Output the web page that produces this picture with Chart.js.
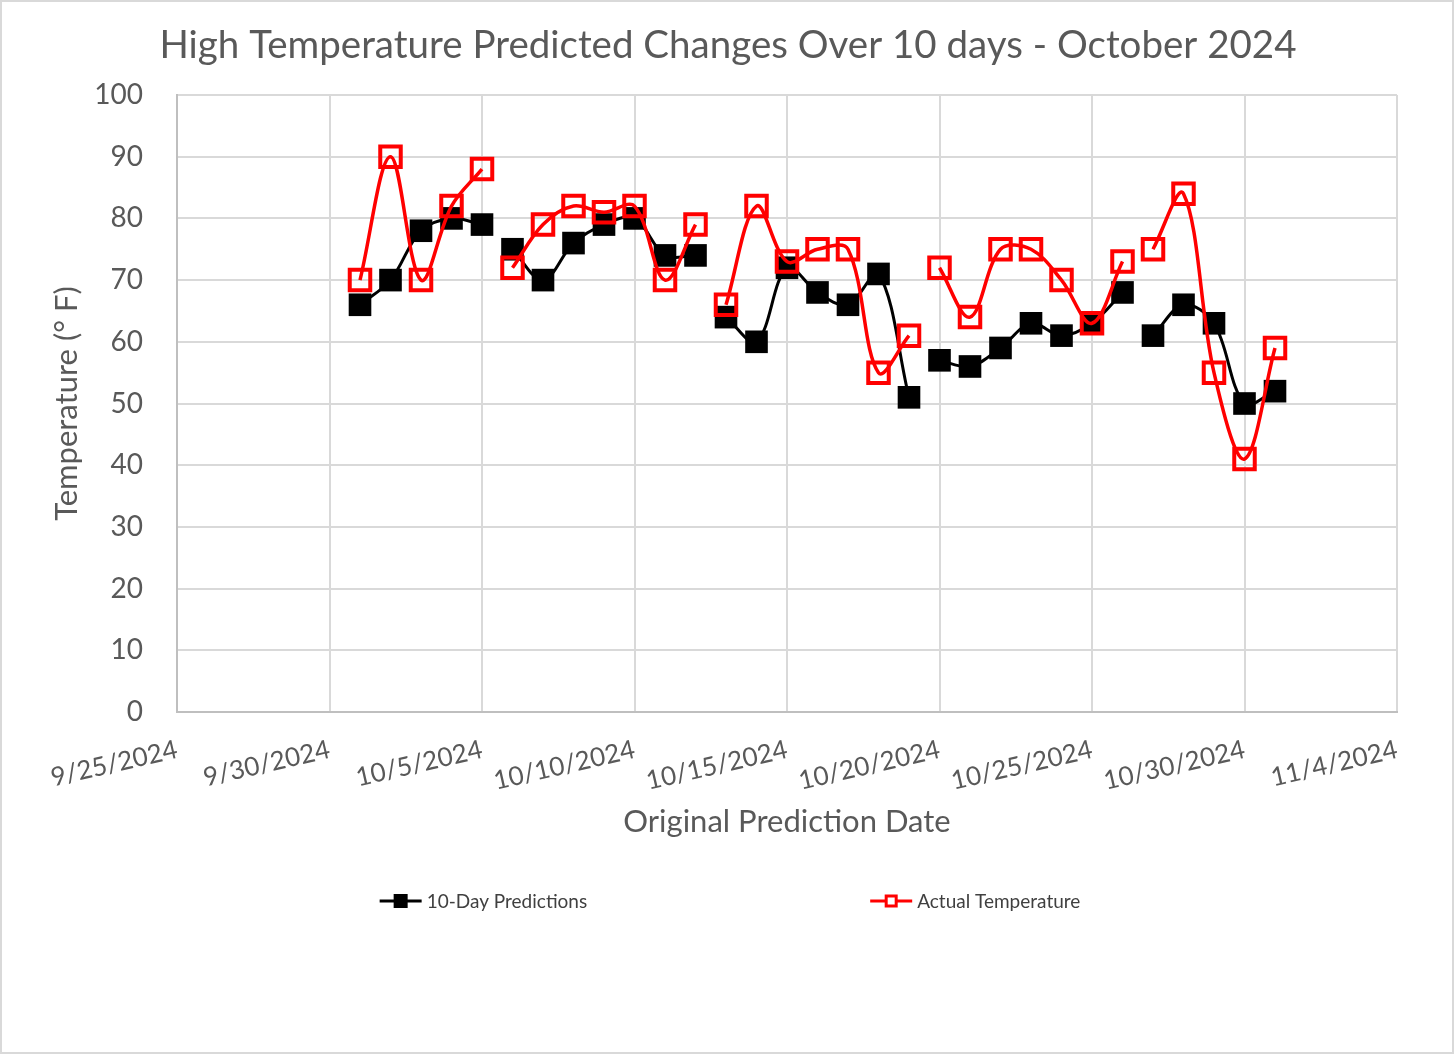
<!DOCTYPE html>
<html>
<head>
<meta charset="utf-8">
<title>High Temperature Predicted Changes Over 10 days - October 2024</title>
<script src="https://cdn.jsdelivr.net/npm/chart.js@4.4.1/dist/chart.umd.min.js"></script>
<style>
  html, body { margin: 0; padding: 0; background: #fff; }
  #wrap { width: 1456px; height: 1056px; position: relative; }
</style>
</head>
<body>
<div id="wrap"><canvas id="myChart"></canvas></div>
<script>
const startDate = '9/25/2024';
const dates = [
    '10/1/2024', '10/2/2024', '10/3/2024', '10/4/2024', '10/5/2024',
    '10/6/2024', '10/7/2024', '10/8/2024', '10/9/2024', '10/10/2024',
    '10/11/2024', '10/12/2024', '10/13/2024', '10/14/2024', '10/15/2024',
    '10/16/2024', '10/17/2024', '10/18/2024', '10/19/2024', '10/20/2024',
    '10/21/2024', '10/22/2024', '10/23/2024', '10/24/2024', '10/25/2024',
    '10/26/2024', '10/27/2024', '10/28/2024', '10/29/2024', '10/30/2024',
    '10/31/2024'
];
const predicted = [66, 70, 78, 80, 79, 75, 70, 76, 79, 80, 74, 74, 64, 60, 72, 68,
    66, 71, 51, 57, 56, 59, 63, 61, 63, 68, 61, 66, 63, 50, 52];
const actual = [70, 90, 70, 82, 88, 72, 79, 82, 81, 82, 70, 79, 66, 82, 73, 75,
    75, 55, 61, 72, 64, 75, 75, 70, 63, 73, 75, 84, 55, 41, 59];
// each of these starts a new (unconnected) run of points in the original
const segmentStarts = ['10/6/2024', '10/13/2024', '10/20/2024', '10/27/2024'];

const FONT = 'Lato';
const GREY = '#595959';

function parseDate(s) {
    const [m, d, y] = s.split('/').map(Number);
    return Date.UTC(y, m - 1, d);
}

function dayOffset(s) {
    return Math.round((parseDate(s) - parseDate(startDate)) / 86400000);
}

function dayLabel(n) {
    const dt = new Date(parseDate(startDate) + n * 86400000);
    return (dt.getUTCMonth() + 1) + '/' + dt.getUTCDate() + '/' + dt.getUTCFullYear();
}

function toPoints(values) {
    const pts = [];
    dates.forEach((d, i) => {
        const x = dayOffset(d);
        if (segmentStarts.includes(d)) pts.push({ x: x - 0.5, y: null });
        pts.push({ x: x, y: values[i] });
    });
    return pts;
}

// white page + thin frame
const pageFrame = {
    id: 'pageFrame',
    beforeDraw(chart) {
        const ctx = chart.ctx;
        ctx.save();
        ctx.fillStyle = '#fff';
        ctx.fillRect(0, 0, chart.width, chart.height);
        ctx.strokeStyle = '#d9d9d9';
        ctx.lineWidth = 2;
        ctx.strokeRect(1, 1, chart.width - 4, chart.height - 4);
        ctx.restore();
    }
};

// Excel style legend: short line with the marker in the middle
const lineLegend = {
    id: 'lineLegend',
    afterDraw(chart) {
        const ctx = chart.ctx;
        const sets = chart.data.datasets;
        const y = 901;
        const iconW = 42, gap = 5, spacing = 283;
        ctx.save();
        ctx.font = '19px ' + FONT;
        const widths = sets.map(ds => iconW + gap + ctx.measureText(ds.label).width);
        const total = widths.reduce((a, b) => a + b, 0) + spacing * (sets.length - 1);
        let x = chart.width / 2 + 2 - total / 2;
        sets.forEach((ds, i) => {
            ctx.strokeStyle = ds.borderColor;
            ctx.lineWidth = 3;
            ctx.beginPath();
            ctx.moveTo(x, y);
            ctx.lineTo(x + iconW, y);
            ctx.stroke();
            const cx = x + iconW / 2;
            if (ds.pointBackgroundColor === '#000000') {
                ctx.fillStyle = ds.pointBackgroundColor;
                ctx.fillRect(cx - 7, y - 7, 14, 14);
            } else {
                ctx.fillStyle = '#fff';
                ctx.fillRect(cx - 5, y - 5, 10, 10);
                ctx.lineWidth = 3;
                ctx.strokeRect(cx - 5, y - 5, 10, 10);
            }
            ctx.fillStyle = '#404040';
            ctx.textBaseline = 'middle';
            ctx.fillText(ds.label, x + iconW + gap, y + 1);
            x += widths[i] + spacing;
        });
        ctx.restore();
    }
};

const ctx = document.getElementById('myChart').getContext('2d');
new Chart(ctx, {
    type: 'line',
    data: {
        datasets: [{
            label: '10-Day Predictions',
            data: toPoints(predicted),
            borderColor: '#000000',
            borderWidth: 3,
            tension: 0.35,
            pointStyle: 'rect',
            pointRadius: 16,
            pointBackgroundColor: '#000000',
            pointBorderColor: '#000000',
            pointBorderWidth: 0,
            order: 1
        }, {
            label: 'Actual Temperature',
            data: toPoints(actual),
            borderColor: '#ff0000',
            borderWidth: 3.5,
            tension: 0.35,
            pointStyle: 'rect',
            pointRadius: 14.5,
            pointBackgroundColor: 'rgba(0,0,0,0)',
            pointBorderColor: '#ff0000',
            pointBorderWidth: 4,
            order: 0
        }]
    },
    options: {
        responsive: true,
        maintainAspectRatio: false,
        devicePixelRatio: 1,
        animation: false,
        events: [],
        spanGaps: false,
        layout: {
            padding: { left: 0, right: 0, top: 0, bottom: 215 }
        },
        plugins: {
            legend: { display: false },
            tooltip: { enabled: false },
            title: {
                display: true,
                text: 'High Temperature Predicted Changes Over 10 days - October 2024',
                color: GREY,
                font: { family: FONT, size: 38.5, weight: 'normal', lineHeight: 1.2 },
                padding: { top: 22, bottom: 26.8 }
            }
        },
        scales: {
            x: {
                type: 'linear',
                min: 0,
                max: 40,
                afterFit: scale => { scale.height = 129; },
                ticks: {
                    stepSize: 5,
                    autoSkip: false,
                    minRotation: 13,
                    maxRotation: 13,
                    padding: 22,
                    color: GREY,
                    font: { family: FONT, size: 26 },
                    callback: v => dayLabel(v)
                },
                grid: { color: '#d9d9d9', lineWidth: 2, drawTicks: false },
                border: { color: '#bfbfbf', width: 2 },
                title: {
                    display: true,
                    text: 'Original Prediction Date',
                    color: GREY,
                    font: { family: FONT, size: 31, lineHeight: 1.2 },
                    padding: 0
                }
            },
            y: {
                min: 0,
                max: 100,
                afterFit: scale => { scale.width = 177; },
                ticks: {
                    stepSize: 10,
                    padding: 34,
                    color: GREY,
                    font: { family: FONT, size: 28 }
                },
                grid: { color: '#d9d9d9', lineWidth: 2, drawTicks: false },
                border: { color: '#bfbfbf', width: 2 },
                title: {
                    display: true,
                    text: 'Temperature (° F)',
                    color: GREY,
                    font: { family: FONT, size: 31, lineHeight: 1.2 },
                    padding: { top: 48, bottom: 0 }
                }
            },
            // empty right-hand axis, only reserves the margin right of the plot
            yRight: {
                position: 'right',
                display: true,
                afterFit: scale => { scale.width = 59; },
                ticks: { display: false },
                grid: { display: false, drawOnChartArea: false },
                border: { display: false }
            }
        }
    },
    plugins: [pageFrame, lineLegend]
});
</script>
</body>
</html>
